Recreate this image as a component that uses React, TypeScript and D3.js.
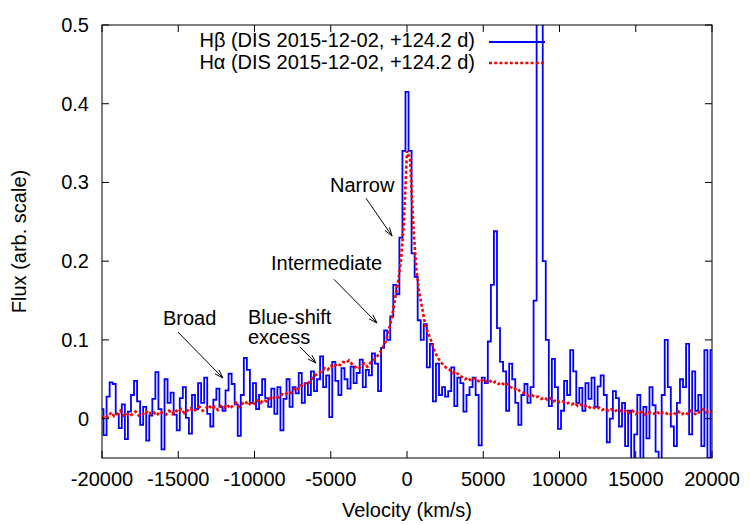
import React from 'react';
import * as d3 from 'd3';

const W = 750;
const H = 525;
const margin = { top: 25, right: 38, bottom: 67, left: 102 };

// velocity grid (bin centres, km/s)
const binStart = -20000;
const binWidth = 200;

// H-beta flux, one value per 200 km/s bin from -20000 to +20000
const hbFlux = [
  0.012, -0.021, 0.028, 0.046, 0.044, 0.006, -0.012, 0.018, -0.026, 0.009,
  0.030, 0.048, 0.022, -0.008, 0.015, -0.028, 0.004, 0.025, 0.059, 0.012,
  -0.039, 0.050, 0.020, 0.033, 0.005, -0.015, 0.026, 0.040, 0.001, -0.019,
  0.030, 0.012, 0.045, 0.020, 0.052, 0.006, -0.010, 0.024, 0.038, 0.015,
  0.010, 0.036, 0.057, 0.044, 0.018, -0.022, 0.030, 0.077, 0.062, 0.020,
  0.045, 0.012, 0.030, 0.050, 0.026, 0.015, 0.038, 0.006, 0.040, -0.015,
  0.025, 0.050, 0.015, 0.040, 0.032, 0.058, 0.020, 0.045, 0.030, 0.060,
  0.035, 0.050, 0.079, 0.040, 0.055, 0.002, 0.072, 0.048, 0.030, 0.064,
  0.050, 0.038, 0.066, 0.045, 0.058, 0.075, 0.040, 0.062, 0.055, 0.083,
  0.070, 0.035, 0.090, 0.112, 0.100, 0.130, 0.170, 0.158, 0.230, 0.340,
  0.415,
  0.340, 0.210, 0.180, 0.125, 0.100, 0.120, 0.065, 0.095, 0.022, 0.070,
  0.030, 0.040, 0.028, 0.035, 0.065, 0.016, 0.052, 0.045, 0.009, 0.030,
  0.040, 0.052, 0.030, -0.034, 0.052, 0.045, 0.098, 0.170, 0.238, 0.115,
  0.072, 0.060, 0.010, 0.070, 0.050, 0.020, -0.008, 0.030, 0.044, 0.020,
  0.040, 0.150, 0.620, 0.580, 0.200, 0.100, 0.016, 0.076, 0.040, -0.013,
  0.010, 0.048, 0.030, 0.087, 0.060, 0.020, 0.039, 0.010, 0.045, 0.025,
  0.052, 0.015, 0.041, 0.055, 0.030, -0.030, 0.000, 0.035, 0.026, -0.010,
  0.020, -0.035, 0.010, -0.060, -0.020, 0.030, -0.055, 0.015, -0.025, 0.040,
  0.017, -0.042, -0.060, 0.030, 0.100, 0.040, -0.010, -0.035, 0.020, 0.050,
  0.040, 0.095, -0.020, 0.060, 0.010, 0.030, -0.035, 0.087, -0.050, 0.087,
];

// H-alpha flux on the same grid
const haFlux = [
  0.000, 0.004, 0.002, 0.008, 0.003, 0.006, 0.010, 0.004, 0.007, 0.003,
  0.006, 0.009, 0.004, 0.007, 0.005, 0.010, 0.006, 0.008, 0.004, 0.009,
  0.007, 0.005, 0.010, 0.006, 0.011, 0.008, 0.012, 0.007, 0.010, 0.013,
  0.009, 0.012, 0.015, 0.010, 0.013, 0.017, 0.012, 0.015, 0.011, 0.016,
  0.014, 0.018, 0.013, 0.017, 0.020, 0.015, 0.019, 0.022, 0.017, 0.021,
  0.019, 0.023, 0.020, 0.024, 0.022, 0.026, 0.025, 0.029, 0.027, 0.031,
  0.030, 0.034, 0.033, 0.038, 0.036, 0.042, 0.041, 0.047, 0.046, 0.052,
  0.055, 0.058, 0.060, 0.064, 0.062, 0.067, 0.065, 0.070, 0.068, 0.072,
  0.071, 0.074, 0.069, 0.066, 0.063, 0.067, 0.070, 0.066, 0.071, 0.074,
  0.078, 0.083, 0.090, 0.098, 0.112, 0.128, 0.150, 0.172, 0.200, 0.250,
  0.340,
  0.330, 0.250, 0.192, 0.160, 0.140, 0.118, 0.108, 0.098, 0.086, 0.078,
  0.072, 0.068, 0.064, 0.062, 0.058, 0.060, 0.055, 0.053, 0.050, 0.052,
  0.048, 0.051, 0.049, 0.046, 0.050, 0.047, 0.049, 0.045, 0.047, 0.044,
  0.046, 0.042, 0.044, 0.040, 0.037, 0.039, 0.035, 0.033, 0.031, 0.029,
  0.030, 0.027, 0.028, 0.025, 0.027, 0.024, 0.026, 0.022, 0.024, 0.021,
  0.022, 0.019, 0.020, 0.018, 0.020, 0.016, 0.018, 0.015, 0.017, 0.014,
  0.015, 0.012, 0.014, 0.011, 0.013, 0.010, 0.012, 0.009, 0.011, 0.010,
  0.008, 0.011, 0.007, 0.010, 0.006, 0.009, 0.008, 0.005, 0.009, 0.007,
  0.006, 0.009, 0.005, 0.008, 0.007, 0.004, 0.008, 0.006, 0.009, 0.005,
  0.008, 0.006, 0.010, 0.007, 0.005, 0.009, 0.012, 0.008, 0.010, 0.009,
];

const xTicks = [-20000, -15000, -10000, -5000, 0, 5000, 10000, 15000, 20000];
const yTicks = [0, 0.1, 0.2, 0.3, 0.4, 0.5];
const yTickLabels = ['0', '0.1', '0.2', '0.3', '0.4', '0.5'];

const legendLabels = ['H\u03B2 (DIS 2015-12-02, +124.2 d)', 'H\u03B1 (DIS 2015-12-02, +124.2 d)'];

// annotation labels, placed in data units (velocity, flux)
const annotations = [
  { lines: ['Narrow'], at: [-5050, 0.288], from: [-2690, 0.28], to: [-980, 0.232] },
  { lines: ['Intermediate'], at: [-8920, 0.189], from: [-4790, 0.177], to: [-1970, 0.1215] },
  { lines: ['Broad'], at: [-16000, 0.119], from: [-15020, 0.11], to: [-12070, 0.0516] },
  { lines: ['Blue-shift', 'excess'], at: [-10430, 0.1205], from: [-7020, 0.091], to: [-5970, 0.0706] },
];

const FONT = '"Liberation Sans", Arial, Helvetica, sans-serif';

const App: React.FC = () => {
  const iw = W - margin.left - margin.right;
  const ih = H - margin.top - margin.bottom;

  const x = d3.scaleLinear().domain([-20000, 20000]).range([margin.left, margin.left + iw]);
  const y = d3.scaleLinear().domain([-0.05, 0.5]).range([margin.top + ih, margin.top]);

  const velocity = (i: number) => binStart + i * binWidth;

  const hbLine = d3.line<number>()
    .x((_, i) => x(velocity(i)))
    .y(d => y(d))
    .curve(d3.curveStep);

  const haLine = d3.line<number>()
    .x((_, i) => x(velocity(i)))
    .y(d => y(d));

  const tick = 7;
  const x0 = margin.left, x1 = margin.left + iw;
  const y0 = margin.top, y1 = margin.top + ih;

  const arrowHead = (fx: number, fy: number, tx: number, ty: number) => {
    const ang = Math.atan2(ty - fy, tx - fx);
    const len = 9;
    const spread = Math.PI / 10;
    const a1 = ang + Math.PI - spread;
    const a2 = ang + Math.PI + spread;
    return `M${tx + len * Math.cos(a1)},${ty + len * Math.sin(a1)}L${tx},${ty}L${tx + len * Math.cos(a2)},${ty + len * Math.sin(a2)}`;
  };

  return (
    <svg width={W} height={H} style={{ position: 'absolute', left: 0, top: 0, background: '#fff' }}
      fontFamily={FONT}>
      <defs>
        <clipPath id="plotClip">
          <rect x={x0} y={y0} width={iw} height={ih} />
        </clipPath>
      </defs>

      {/* data */}
      <g clipPath="url(#plotClip)">
        <path d={hbLine(hbFlux) || ''} fill="none" stroke="#0000ff" strokeWidth={1.8} />
        <path d={haLine(haFlux) || ''} fill="none" stroke="#ff0000" strokeWidth={2.6}
          strokeDasharray="3,2.2" />
      </g>

      {/* frame */}
      <rect x={x0} y={y0} width={iw} height={ih} fill="none" stroke="#000" strokeWidth={1} />

      {/* x ticks */}
      {xTicks.map(t => (
        <g key={`x${t}`}>
          <line x1={x(t)} x2={x(t)} y1={y1} y2={y1 - tick} stroke="#000" />
          <line x1={x(t)} x2={x(t)} y1={y0} y2={y0 + tick} stroke="#000" />
          <text x={x(t)} y={486} textAnchor="middle" fontSize={20} fill="#000">{String(t)}</text>
        </g>
      ))}

      {/* y ticks */}
      {yTicks.map((t, i) => (
        <g key={`y${t}`}>
          <line x1={x0} x2={x0 + tick} y1={y(t)} y2={y(t)} stroke="#000" />
          <line x1={x1} x2={x1 - tick} y1={y(t)} y2={y(t)} stroke="#000" />
          <text x={89} y={y(t) + 7} textAnchor="end" fontSize={20} fill="#000">{yTickLabels[i]}</text>
        </g>
      ))}

      {/* axis titles */}
      <text x={(x0 + x1) / 2} y={517} textAnchor="middle" fontSize={20} fill="#000">Velocity (km/s)</text>
      <text transform={`translate(26,${(y0 + y1) / 2}) rotate(-90)`} textAnchor="middle" fontSize={20} fill="#000">
        Flux (arb. scale)
      </text>

      {/* legend */}
      <text x={475} y={47} textAnchor="end" fontSize={20} fill="#000">{legendLabels[0]}</text>
      <line x1={489} x2={545} y1={42} y2={42} stroke="#0000ff" strokeWidth={1.8} />
      <text x={475} y={69} textAnchor="end" fontSize={20} fill="#000">{legendLabels[1]}</text>
      <line x1={489} x2={545} y1={63} y2={63} stroke="#ff0000" strokeWidth={2.6} strokeDasharray="3,2.2" />

      {/* annotations */}
      {annotations.map((a, k) => {
        const fx = x(a.from[0]), fy = y(a.from[1]);
        const tx = x(a.to[0]), ty = y(a.to[1]);
        return (
          <g key={`a${k}`}>
            <text x={x(a.at[0])} y={y(a.at[1])} fontSize={20} fill="#000">
              {a.lines.map((l, j) => (
                <tspan key={j} x={x(a.at[0])} dy={j === 0 ? 0 : 20}>{l}</tspan>
              ))}
            </text>
            <line x1={fx} y1={fy} x2={tx} y2={ty} stroke="#000" strokeWidth={1} />
            <path d={arrowHead(fx, fy, tx, ty)} fill="none" stroke="#000" strokeWidth={1} />
          </g>
        );
      })}
    </svg>
  );
};

export default App;
